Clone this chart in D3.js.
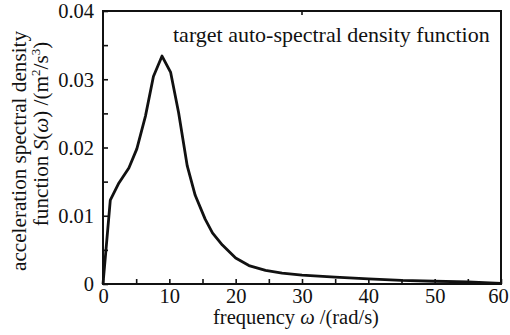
<!DOCTYPE html>
<html>
<head>
<meta charset="utf-8">
<script src="https://cdn.jsdelivr.net/npm/d3@7"></script>
<style>
  body { margin: 0; background: #fff; }
</style>
</head>
<body>
<svg id="chart" width="510" height="335"></svg>
<script>
// frequency (rad/s) and target auto-spectral density
const omega = [0, 1.1, 2.4, 3.9, 5.1, 6.4, 7.6, 8.9, 10.2, 11.4, 12.7, 13.9, 15.4, 16.5, 18, 20, 22, 24.5, 27, 30, 35, 40, 45, 50, 55, 60];
const psd = [0, 0.0123, 0.0148, 0.0170, 0.0198, 0.0246, 0.0304, 0.0334, 0.0310, 0.0251, 0.0173, 0.0130, 0.0095, 0.0075, 0.0057, 0.0038, 0.0027, 0.0020, 0.0016, 0.0013, 0.0010, 0.00075, 0.00052, 0.0004, 0.0003, 0.0001];
const xTicks = [0, 5, 10, 15, 20, 25, 30, 35, 40, 45, 50, 55, 60];
const yTicks = [0, 0.005, 0.01, 0.015, 0.02, 0.025, 0.03, 0.035, 0.04];

const FONT = 'Liberation Serif';
const FS = 20.5;

const svg = d3.select('#chart');
const plotLeft = 103, plotRight = 501, plotTop = 11, plotBottom = 284;

const x = d3.scaleLinear().domain([0, 60]).range([plotLeft, plotRight]);
const y = d3.scaleLinear().domain([0, 0.04]).range([plotBottom, plotTop]);

// ticks point inward
let xAxis = d3.axisBottom(x)
    .tickValues(xTicks)
    .tickSizeInner(-5)
    .tickSizeOuter(0)
    .tickPadding(4)
    .tickFormat(d => d % 10 === 0 ? d : '');

let yAxis = d3.axisLeft(y)
    .tickValues(yTicks)
    .tickSizeInner(-5)
    .tickSizeOuter(0)
    .tickPadding(9)
    .tickFormat(d => Math.round(d * 1000) % 10 === 0 ? (d === 0 ? '0' : d3.format('.2f')(d)) : '');

let gx = svg.append('g').attr('transform', `translate(0,${plotBottom})`).call(xAxis);
let gy = svg.append('g').attr('transform', `translate(${plotLeft},0)`).call(yAxis);

[gx, gy].forEach(g => {
    g.attr('font-family', FONT).attr('font-size', FS);
    g.select('.domain').remove();
    g.selectAll('.tick line').attr('stroke', '#111').attr('stroke-width', 1.6);
    g.selectAll('.tick text').attr('fill', '#111');
});
gx.selectAll('.tick text').attr('dy', '0.71em');
// keep the last label inside the window
gx.selectAll('.tick text').filter(d => d === 60).attr('dx', -3);
gy.selectAll('.tick text').attr('dy', '0.33em');

// single tick on the top edge at 30
svg.append('line')
    .attr('x1', x(30)).attr('x2', x(30))
    .attr('y1', plotTop).attr('y2', plotTop + 4)
    .attr('stroke', '#111').attr('stroke-width', 1.6);

// frame
svg.append('rect')
    .attr('x', plotLeft).attr('y', plotTop)
    .attr('width', plotRight - plotLeft).attr('height', plotBottom - plotTop)
    .attr('fill', 'none')
    .attr('stroke', '#111')
    .attr('stroke-width', 2);

let line = d3.line()
    .x((d, i) => x(omega[i]))
    .y(d => y(d));

svg.append('path')
    .datum(psd)
    .attr('d', line)
    .attr('fill', 'none')
    .attr('stroke', '#111')
    .attr('stroke-width', 2.8)
    .attr('stroke-linejoin', 'round');

function label(sel, size) {
    return sel.attr('font-family', FONT).attr('font-size', size || FS).attr('fill', '#111');
}

// legend text
label(svg.append('text'), 22)
    .attr('x', 173).attr('y', 42)
    .text('target auto-spectral density function');

// x title
let xt = label(svg.append('text'))
    .attr('x', 296).attr('y', 324)
    .attr('text-anchor', 'middle');
xt.append('tspan').text('frequency ');
xt.append('tspan').attr('font-style', 'italic').text('ω');
xt.append('tspan').text(' /(rad/s)');

// y title, two lines
label(svg.append('text'), 21.2)
    .attr('transform', 'translate(26,151) rotate(-90)')
    .attr('text-anchor', 'middle')
    .text('acceleration spectral density');

let yt = label(svg.append('text'), 21.2)
    .attr('transform', 'translate(48,134) rotate(-90)')
    .attr('text-anchor', 'middle');
yt.append('tspan').text('function ');
yt.append('tspan').attr('font-style', 'italic').text('S');
yt.append('tspan').text('(');
yt.append('tspan').attr('font-style', 'italic').text('ω');
yt.append('tspan').text(') /(m');
yt.append('tspan').attr('font-size', 13).attr('dy', -8).text('2');
yt.append('tspan').attr('dy', 8).text('/s');
yt.append('tspan').attr('font-size', 13).attr('dy', -8).text('3');
yt.append('tspan').attr('dy', 8).text(')');
</script>
</body>
</html>
